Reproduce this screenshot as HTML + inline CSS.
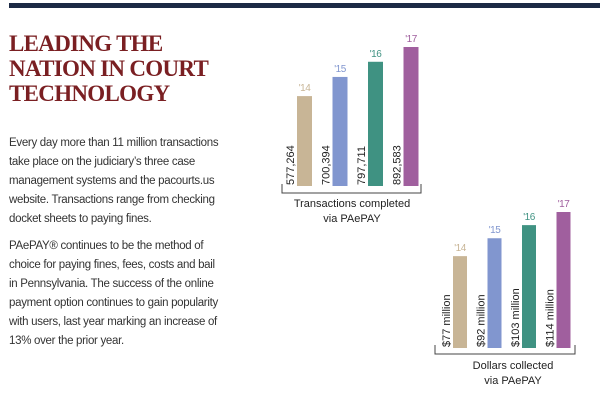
<!DOCTYPE html>
<html><head><meta charset="utf-8"><style>
html,body{margin:0;padding:0;background:#fff;width:600px;height:406px;overflow:hidden;position:relative}
.top{position:absolute;left:9px;top:3px;width:591px;height:5px;background:#1c2a45}
.title{position:absolute;left:9px;top:31px;font-family:"Liberation Serif",serif;font-weight:bold;font-size:23px;line-height:25px;color:#7a1f22;letter-spacing:-0.7px;margin:0}
.p{position:absolute;left:9px;font-family:"Liberation Sans",sans-serif;font-size:11.5px;line-height:19px;color:#333;margin:0;letter-spacing:-0.3px}
svg{position:absolute;left:0;top:0}
</style></head><body>
<div class="top"></div>
<h1 class="title">LEADING THE<br>NATION IN COURT<br>TECHNOLOGY</h1>
<p class="p" style="top:134px">Every day more than 11 million transactions<br>take place on the judiciary’s three case<br>management systems and the pacourts.us<br>website. Transactions range from checking<br>docket sheets to paying fines.</p>
<p class="p" style="top:237px">PAePAY® continues to be the method of<br>choice for paying fines, fees, costs and bail<br>in Pennsylvania. The success of the online<br>payment option continues to gain popularity<br>with users, last year marking an increase of<br>13% over the prior year.</p>
<svg id="chart" width="600" height="406"></svg>
<script>
const years = ["'14","'15","'16","'17"];
const transactions = [577264, 700394, 797711, 892583];
const transLabels = ["577,264","700,394","797,711","892,583"];
const dollars = [77, 92, 103, 114];
const dollarLabels = ["$77 million","$92 million","$103 million","$114 million"];
const colors = ["#c8b596","#8196cf","#3f9282","#a05f9e"];
const NS = "http://www.w3.org/2000/svg";
const svg = document.getElementById('chart');
function mk(tag, attrs){const e=document.createElementNS(NS,tag);for(const k in attrs)e.setAttribute(k,attrs[k]);svg.appendChild(e);return e;}
function drawChart(cfg, values, labels, name){
  const y = v => cfg.base - v / cfg.maxVal * cfg.maxH;
  values.forEach((v,i)=>{
    const x = cfg.x0 + i*cfg.step;
    const r = mk('rect',{x:x,y:y(v),width:cfg.bw,height:cfg.base-y(v),fill:colors[i]});
    
    
    const yl = mk('text',{x:x+cfg.bw/2,y:y(v)-5,'text-anchor':'middle','font-family':'Liberation Sans, sans-serif','font-size':'10',fill:colors[i],'letter-spacing':'-0.5'});
    yl.textContent = years[i];
    
    
    const vl = mk('text',{transform:'translate('+(x-3)+','+(cfg.base-1)+') rotate(-90)','font-family':'Liberation Sans, sans-serif','font-size':'11',fill:'#222'});
    vl.textContent = labels[i];
    
    
  });
  const b = mk('path',{d:'M'+cfg.bl+','+(cfg.by-9)+'V'+cfg.by+'H'+cfg.br+'V'+(cfg.by-9),fill:'none',stroke:'#444','stroke-width':'1'});
  
  
  cfg.cap.forEach((t,j)=>{
    const c = mk('text',{x:cfg.cx,y:cfg.cy+j*15,'text-anchor':'middle','font-family':'Liberation Sans, sans-serif','font-size':'11',fill:'#222'});
    c.textContent = t;
    
    
  });
}
drawChart({x0:297,step:35.5,bw:15,base:186,maxVal:892583,maxH:139,bl:282,br:421,by:193,cx:352,cy:207,cap:["Transactions completed","via PAePAY"]}, transactions, transLabels, 'transactions');
drawChart({x0:453,step:34.5,bw:14,base:348,maxVal:114,maxH:136,bl:435,br:575,by:354,cx:513,cy:369,cap:["Dollars collected","via PAePAY"]}, dollars, dollarLabels, 'dollars');
</script>
</body></html>
